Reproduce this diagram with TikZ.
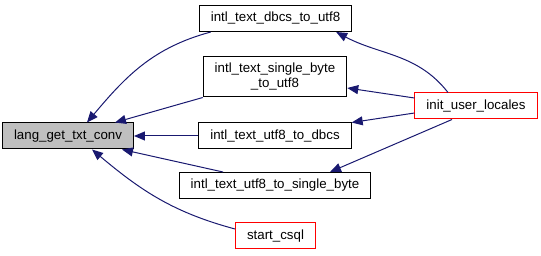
\documentclass[tikz,border=0pt]{standalone}
\usepackage{fontspec}
\setmainfont{Liberation Sans}
\usetikzlibrary{arrows.meta}
\definecolor{edgeblue}{HTML}{191970}

\begin{document}
\begin{tikzpicture}[x=1pt, y=-1pt,
		fnnode/.style={draw=black, line width=1pt, fill=white, rectangle, inner xsep=11.5pt, inner ysep=0pt, minimum height=26pt, align=center, font=\fontsize{13.3}{15}\selectfont},
		calledge/.style={draw=edgeblue, line width=1pt, -{Triangle[length=11pt, width=9pt]}}]
			\useasboundingbox (0, 0) rectangle (541, 256);

			\node[fnnode, fill=gray!50] at (68, 136) (lang) {lang\_get\_txt\_conv};

			\node[fnnode] at (275.5, 18.5) (dbcs) {intl\_text\_dbcs\_to\_utf8};
			\node[fnnode, minimum height=40pt] at (275, 77) (single) {intl\_text\_single\_byte\\\_to\_utf8};
			\node[fnnode] at (275, 136) (utf8dbcs) {intl\_text\_utf8\_to\_dbcs};
			\node[fnnode] at (275, 185.5) (utf8single) {intl\_text\_utf8\_to\_single\_byte};
			\node[fnnode, draw=red] at (275.5, 236) (csql) {start\_csql};

			\node[fnnode, draw=red] at (476, 106) (init) {init\_user\_locales};

			\path
			([xshift=12pt]dbcs.south west) edge[calledge, out=195, in=50] ([xshift=19pt]lang.north)
			(single.south west) edge[calledge] ([xshift=47pt]lang.north)
			(utf8dbcs) edge[calledge] (lang)
			([xshift=-52pt]utf8single.north) edge[calledge] ([xshift=54pt]lang.south)
			([yshift=7pt]csql.west) edge[calledge, out=165, in=-40] ([xshift=24pt]lang.south)
			([xshift=-28pt]init.north) edge[calledge, out=128, in=-28] ([xshift=-16pt]dbcs.south east)
			([yshift=8pt]init.west) edge[calledge] ([yshift=-11pt]single.east)
			([yshift=-7pt]init.west) edge[calledge] (utf8dbcs.north east)
			([xshift=-24pt]init.south) edge[calledge] ([xshift=55pt]utf8single.north);
		\end{tikzpicture}
\end{document}
